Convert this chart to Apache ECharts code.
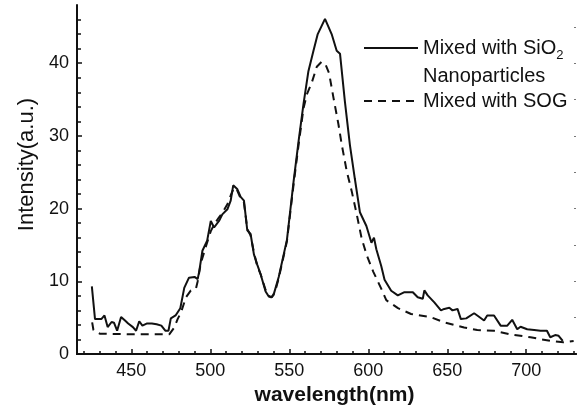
<!DOCTYPE html>
<html>
<head>
<meta charset="utf-8">
<script src="https://cdn.jsdelivr.net/npm/echarts@6/dist/echarts.min.js"></script>
<style>
html,body{margin:0;padding:0;background:#fff;}
#chart{width:579px;height:414px;}
</style>
</head>
<body>
<div id="chart"></div>
<script>
// ---- data ----
const seriesNames = ['Mixed with SiO₂ Nanoparticles', 'Mixed with SOG'];

const sio2Wavelength = [425, 427, 431, 433, 435, 437.5, 439, 441, 443.5, 446, 448, 451, 453, 455, 457, 460, 463, 466, 469, 471.5, 473.5, 475, 478, 481, 483.5, 486.5, 490, 492, 493, 495, 498, 500.3, 502.4, 505.5, 507.6, 510.8, 512.9, 514.5, 517, 519.2, 521.3, 523.4, 525.5, 527.6, 529.7, 531.8, 535, 537, 538.5, 540, 543.3, 548.5, 552.7, 555.9, 559, 562.1, 565.3, 568, 572.6, 576.8, 580, 582.1, 585.2, 588.4, 591.5, 594.7, 598.8, 602, 603.6, 605.1, 608.2, 610.3, 614.5, 618.7, 622.9, 625, 628.2, 631.3, 634.5, 635.5, 637.6, 641.8, 646, 648.1, 651.3, 653.3, 656.5, 658.6, 662, 667, 669, 673.3, 675.3, 679.6, 683.8, 688, 691.1, 694.3, 696.4, 700.6, 705, 709, 713.1, 715.2, 718.3, 720.5, 723.1];
const sio2Intensity = [9.3, 4.8, 4.8, 5.3, 3.7, 4.4, 4.3, 3.2, 5.1, 4.6, 4.2, 3.7, 3.2, 4.5, 3.9, 4.2, 4.2, 4.1, 3.9, 3.2, 3.2, 4.9, 5.3, 6.3, 9.1, 10.5, 10.6, 10.3, 11.4, 14.2, 15.6, 18.3, 17.4, 18.3, 19.2, 19.9, 21.1, 23.2, 22.7, 21.6, 21.1, 17, 16.5, 13.7, 12.3, 11, 8.6, 7.9, 7.8, 8.1, 10.6, 15.7, 23.7, 29.3, 34.4, 38.9, 41.7, 44, 46.1, 44, 41.7, 41.3, 34.7, 28.7, 24.1, 19.5, 17.6, 15.3, 16, 14.4, 12.1, 10.2, 8.7, 8.06, 8.5, 8.5, 8.5, 7.8, 7.6, 8.75, 8.06, 7.1, 6, 6.2, 6.35, 6, 6.2, 4.8, 4.9, 5.6, 5.3, 4.6, 5.3, 5.3, 3.9, 3.9, 4.7, 3.4, 3.75, 3.4, 3.3, 3.2, 3.2, 2.3, 2.6, 2.5, 1.8];

const sogWavelength = [425.2, 426, 430, 450, 474, 477.2, 479.3, 481.4, 484.6, 487.7, 490.9, 491.9, 494, 497.2, 500.3, 502.4, 505.5, 507.6, 510.8, 512.9, 515, 517, 519.2, 521.3, 523.4, 525.5, 527.6, 529.7, 531.8, 535, 537, 539, 541, 543.3, 548.5, 552.7, 555.9, 559, 561.1, 564.2, 567.4, 570.5, 573, 575.2, 578, 581.1, 583.2, 586.4, 589.5, 592.7, 595.8, 599, 603.2, 608.2, 611.4, 618.8, 627.1, 639.7, 648.1, 660.7, 669, 679.6, 690.1, 702.7, 715.2, 723.6, 730];
const sogIntensity = [4.35, 3.3, 2.8, 2.7, 2.7, 3.65, 4.8, 5.7, 7.8, 8.75, 9, 9.9, 12.5, 14.8, 16.9, 17.8, 18.8, 19.4, 20.6, 21.8, 22.9, 22.5, 21.4, 20.8, 17.2, 16.3, 14, 12.1, 11, 8.8, 8, 7.8, 8.6, 10.4, 15.5, 23.3, 28.8, 33.8, 35.7, 37.3, 39.5, 40.2, 39.8, 38.6, 35.2, 31.6, 28.8, 25.1, 22.4, 19.2, 15.9, 13.6, 11.3, 9, 7.4, 6.3, 5.5, 5.05, 4.35, 3.65, 3.3, 3.2, 2.7, 2.3, 1.8, 1.6, 1.8];

const xTickLabels = [450, 500, 550, 600, 650, 700];
const xMinorTicks = [420, 430, 440, 460, 470, 480, 490, 510, 520, 530, 540, 560, 570, 580, 590, 610, 620, 630, 640, 660, 670, 680, 690, 710, 720, 730];
const yTickLabels = [0, 10, 20, 30, 40];
const yMinorTicks = [2, 4, 6, 8, 12, 14, 16, 18, 22, 24, 26, 28, 32, 34, 36, 38, 42, 44, 46];
const yRightTicks = [5, 10, 15, 20, 25, 30, 35, 40, 45];

const X_MIN = 415.6, X_MAX = 731.5, Y_MIN = 0, Y_MAX = 48;

function zip(a, b) { return a.map((v, i) => [v, b[i]]); }

const FONT = '"Liberation Sans", Arial, sans-serif';
const chart = echarts.init(document.getElementById('chart'), null, {renderer: 'canvas'});

const baseX = {type: 'value', min: X_MIN, max: X_MAX, splitLine: {show: false}};
const baseY = {type: 'value', min: Y_MIN, max: Y_MAX, splitLine: {show: false}};

chart.setOption({
  backgroundColor: '#fff',
  animation: false,
  grid: {left: 77, right: 3, top: 5, bottom: 60},
  legend: {
    left: 363, top: 38, orient: 'vertical', padding: 0,
    itemWidth: 54, itemHeight: 14, itemGap: 5,
    itemStyle: {opacity: 0},
    data: [
      {name: seriesNames[0], textStyle: {padding: [28, 0, 0, 0]}},
      {name: seriesNames[1]}
    ],
    formatter: function (name) {
      if (name === seriesNames[0]) return '{a|Mixed with SiO}{s|2}\n{a|Nanoparticles}';
      return '{a|Mixed with SOG}';
    },
    textStyle: {
      fontFamily: FONT, fontSize: 20, color: '#111',
      rich: {
        a: {fontFamily: FONT, fontSize: 20, color: '#111', lineHeight: 28},
        s: {fontFamily: FONT, fontSize: 13, color: '#111', lineHeight: 12, verticalAlign: 'bottom'}
      }
    }
  },
  xAxis: [
    Object.assign({}, baseX, {
      position: 'bottom',
      name: 'wavelength(nm)', nameLocation: 'middle', nameGap: 17,
      nameTextStyle: {fontFamily: FONT, fontSize: 21, fontWeight: 'bold', color: '#111', padding: [0, 0, 0, 16]},
      axisLine: {show: true, lineStyle: {color: '#111', width: 2}},
      axisTick: {show: true, inside: true, length: 5, customValues: xTickLabels, lineStyle: {color: '#111', width: 1.5}},
      axisLabel: {show: true, customValues: xTickLabels, margin: 8, fontFamily: FONT, fontSize: 18, color: '#111'}
    }),
    Object.assign({}, baseX, {
      position: 'bottom',
      axisLine: {show: false},
      axisTick: {show: true, inside: true, length: 3, customValues: xMinorTicks, lineStyle: {color: '#111', width: 1.5}},
      axisLabel: {show: false}
    }),
    Object.assign({}, baseX, {
      position: 'top',
      axisLine: {show: true, lineStyle: {color: '#111', width: 2}},
      axisTick: {show: false},
      axisLabel: {show: false}
    })
  ],
  yAxis: [
    Object.assign({}, baseY, {
      position: 'left',
      name: 'Intensity(a.u.)', nameLocation: 'middle', nameGap: 38, nameRotate: 90,
      nameTextStyle: {fontFamily: FONT, fontSize: 22, color: '#111', padding: [0, 0, 0, 30]},
      axisLine: {show: true, lineStyle: {color: '#111', width: 2}},
      axisTick: {show: true, inside: true, length: 5, customValues: yTickLabels, lineStyle: {color: '#111', width: 1.5}},
      axisLabel: {show: true, customValues: yTickLabels, margin: 8, fontFamily: FONT, fontSize: 18, color: '#111'}
    }),
    Object.assign({}, baseY, {
      position: 'left',
      axisLine: {show: false},
      axisTick: {show: true, inside: true, length: 4, customValues: yMinorTicks, lineStyle: {color: '#111', width: 1.5}},
      axisLabel: {show: false}
    }),
    Object.assign({}, baseY, {
      position: 'right',
      axisLine: {show: false},
      axisTick: {show: true, inside: true, length: 2, customValues: yRightTicks, lineStyle: {color: '#777', width: 1}},
      axisLabel: {show: false}
    })
  ],
  series: [
    {
      name: seriesNames[0], type: 'line', xAxisIndex: 0, yAxisIndex: 0,
      data: zip(sio2Wavelength, sio2Intensity),
      showSymbol: false, symbol: 'none', smooth: false,
      lineStyle: {color: '#111', width: 2}, itemStyle: {color: '#111'}
    },
    {
      name: seriesNames[1], type: 'line', xAxisIndex: 0, yAxisIndex: 0,
      data: zip(sogWavelength, sogIntensity),
      showSymbol: false, symbol: 'none', smooth: false,
      lineStyle: {color: '#111', width: 2, type: [8, 6]}, itemStyle: {color: '#111'}
    }
  ]
});
</script>
</body>
</html>
